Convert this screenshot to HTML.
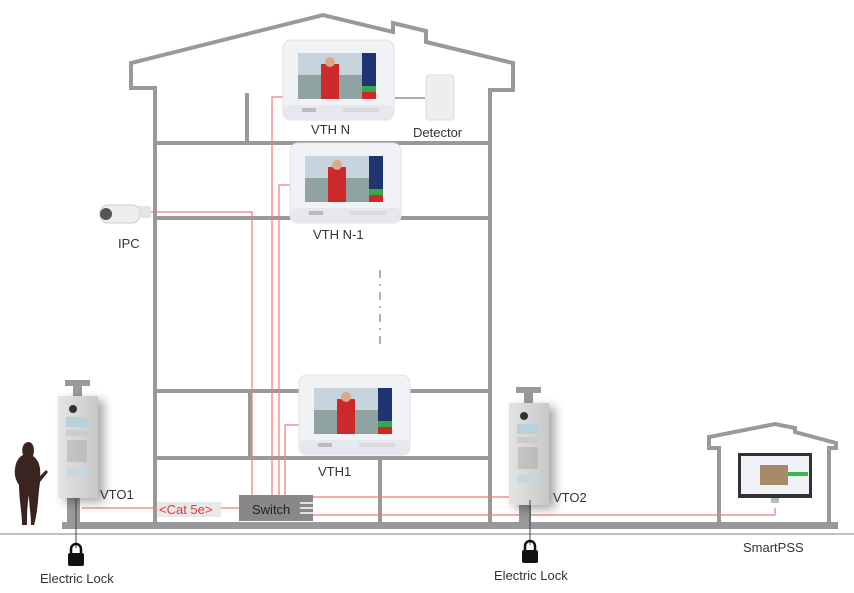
<!DOCTYPE html>
<html><head><meta charset="utf-8"><style>
body{margin:0;background:#fff}
svg{display:block}
text{font-family:"Liberation Sans",sans-serif;fill:#333}
</style></head><body>
<svg width="854" height="593" viewBox="0 0 854 593">
<defs>
<linearGradient id="vto" x1="0" x2="1"><stop offset="0" stop-color="#e4e4e4"/><stop offset="1" stop-color="#c8c8c8"/></linearGradient>
<filter id="sh" x="-50%" y="-20%" width="200%" height="140%"><feDropShadow dx="6" dy="4" stdDeviation="5" flood-opacity="0.35"/></filter>
<g id="mon">
<rect x="0" y="0" width="111" height="80" rx="8" fill="#f1f2f5" stroke="#dfe1e6"/>
<rect x="0" y="65" width="111" height="15" rx="6" fill="#e6e8ee"/>
<rect x="15" y="13" width="64" height="46" fill="#8fa3a0"/>
<rect x="15" y="13" width="64" height="22" fill="#c7d3dd"/>
<rect x="38" y="24" width="18" height="35" fill="#cc2a2a"/>
<circle cx="47" cy="22" r="5" fill="#d9a98a"/>
<rect x="79" y="13" width="14" height="46" fill="#1e3571"/>
<rect x="79" y="46" width="14" height="6" fill="#3aa64a"/>
<rect x="79" y="52" width="14" height="7" fill="#d02828"/>
<rect x="19" y="68" width="14" height="4" fill="#bbb"/>
<rect x="60" y="68" width="36" height="4" fill="#d8dade"/>
</g>
<g id="vtob">
<rect x="7" y="0" width="25" height="6" fill="#9a9a9a"/>
<rect x="15" y="6" width="9" height="10" fill="#9a9a9a"/>
<rect x="0" y="16" width="40" height="102" fill="url(#vto)" filter="url(#sh)"/>
<circle cx="15" cy="29" r="4" fill="#333"/>
<rect x="8" y="37" width="22" height="10" fill="#b9d0dd"/>
<rect x="8" y="50" width="22" height="6" fill="#ccc"/>
<g fill="#aaa"><rect x="9" y="60" width="20" height="22" opacity="0.5"/></g>
<rect x="9" y="88" width="20" height="8" fill="#c8d6df"/>
</g>
</defs>
<line x1="0" y1="534" x2="854" y2="534" stroke="#aaa" stroke-width="1.5"/>
<rect x="62" y="522" width="776" height="7" fill="#999"/>
<g fill="none" stroke="#999" stroke-width="4">
<polyline points="155,525 155,88 131,88 131,63 323,15 393,32 393,23 426,31 426,42 513,63 513,90 490,90 490,525"/>
<line x1="155" y1="143" x2="490" y2="143"/>
<line x1="155" y1="218" x2="490" y2="218"/>
<line x1="155" y1="391" x2="490" y2="391"/>
<line x1="155" y1="458" x2="490" y2="458"/>
<line x1="247" y1="93" x2="247" y2="143"/>
<line x1="250" y1="391" x2="250" y2="458"/>
<line x1="380" y1="458" x2="380" y2="525"/>
<polyline points="719,525 719,448 709,448 709,437 775,424 795,428 795,432 836,443 836,448 829,448 829,525"/>
</g>
<line x1="380" y1="270" x2="380" y2="350" stroke="#999" stroke-width="1.5" stroke-dasharray="8,6,2,6"/>
<g fill="none" stroke="#f07a7a" stroke-width="1.2">
<polyline points="82,508 239,508"/>
<polyline points="313,497 509,497"/>
<polyline points="313,515 775,515 775,508"/>
<polyline points="252,495 252,212 150,212"/>
<polyline points="272,495 272,97 283,97"/>
<polyline points="279,495 279,185 290,185"/>
<polyline points="285,495 285,425 299,425"/>
</g>
<line x1="395" y1="98" x2="425" y2="98" stroke="#555" stroke-width="1"/>
<use href="#mon" x="283" y="40"/>
<use href="#mon" x="290" y="143"/>
<use href="#mon" x="299" y="375"/>
<rect x="426" y="75" width="28" height="45" rx="3" fill="#eee" stroke="#ddd"/>
<rect x="100" y="205" width="40" height="18" rx="8" fill="#eee" stroke="#ccc"/>
<circle cx="106" cy="214" r="6" fill="#555"/>
<rect x="138" y="206" width="13" height="12" fill="#e4e4e4"/>
<rect x="67" y="498" width="13" height="27" fill="#999"/>
<use href="#vtob" x="58" y="380"/>
<line x1="76" y1="498" x2="76" y2="548" stroke="#444"/>
<rect x="519" y="500" width="12" height="25" fill="#999"/>
<use href="#vtob" x="509" y="387"/>
<line x1="530" y1="500" x2="530" y2="545" stroke="#444"/>
<g fill="#111">
<rect x="68" y="553" width="16" height="13" rx="2"/><path d="M71,553 v-4 a5,5 0 0 1 10,0 v4" fill="none" stroke="#111" stroke-width="2.5"/>
<rect x="522" y="550" width="16" height="13" rx="2"/><path d="M525,550 v-4 a5,5 0 0 1 10,0 v4" fill="none" stroke="#111" stroke-width="2.5"/>
</g>
<path d="M28,442 c6,0 7,8 5,14 c6,4 8,12 7,20 l6,-6 l2,2 l-8,10 c-2,14 -2,30 -6,43 l-3,0 c0,-10 -2,-20 -2,-30 c-2,10 -2,22 -2,30 l-5,0 c0,-12 -3,-26 -3,-40 c-3,-4 -5,-10 -4,-16 c1,-10 6,-13 8,-14 c-2,-6 0,-13 6,-13z" fill="#3a2420"/>
<rect x="239" y="495" width="74" height="26" fill="#888"/>
<g stroke="#fff" stroke-width="1.5"><line x1="300" y1="503" x2="313" y2="503"/><line x1="300" y1="508" x2="313" y2="508"/><line x1="300" y1="513" x2="313" y2="513"/></g>
<text x="252" y="514" font-size="13" style="fill:#222">Switch</text>
<rect x="157" y="502" width="64" height="15" fill="#e8e8e8"/>
<text x="159" y="514" font-size="13" style="fill:#e03a3a">&lt;Cat 5e&gt;</text>
<rect x="738" y="453" width="74" height="45" fill="#333"/>
<rect x="741" y="456" width="68" height="38" fill="#eef1f5"/>
<rect x="760" y="465" width="28" height="20" fill="#a78a6a"/>
<rect x="788" y="472" width="20" height="4" fill="#3bb54a"/>
<rect x="771" y="498" width="8" height="5" fill="#bbb"/>
<g font-size="13">
<text x="311" y="134">VTH N</text>
<text x="413" y="137">Detector</text>
<text x="313" y="239">VTH N-1</text>
<text x="118" y="248">IPC</text>
<text x="318" y="476">VTH1</text>
<text x="100" y="499">VTO1</text>
<text x="553" y="502">VTO2</text>
<text x="40" y="583">Electric Lock</text>
<text x="494" y="580">Electric Lock</text>
<text x="743" y="552">SmartPSS</text>
</g>
</svg>
</body></html>
